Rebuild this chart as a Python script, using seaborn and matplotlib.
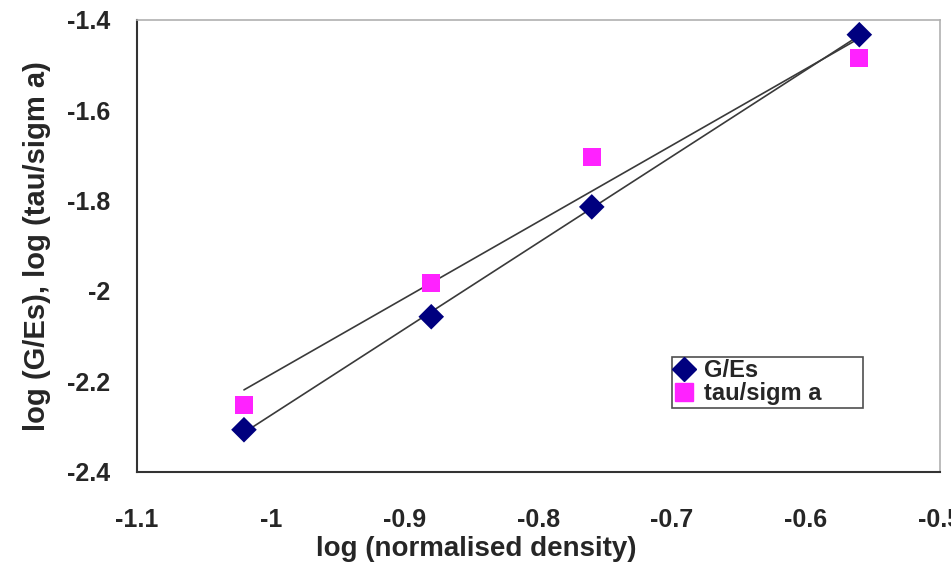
import numpy as np
import pandas as pd
import seaborn as sns
import matplotlib.pyplot as plt
from matplotlib.lines import Line2D

# values
log_density = [-1.02, -0.88, -0.76, -0.56]
g_es = [-2.307, -2.057, -1.814, -1.433]
tau_sigma = [-2.252, -1.982, -1.703, -1.484]
series_names = ['G/Es', 'tau/sigm a']
x_ticks = [-1.1, -1, -0.9, -0.8, -0.7, -0.6, -0.5]
y_ticks = [-2.4, -2.2, -2, -1.8, -1.6, -1.4]

df = pd.DataFrame({
    'x': log_density * 2,
    'y': g_es + tau_sigma,
    'series': [series_names[0]] * 4 + [series_names[1]] * 4,
})

sns.set_style('white')
plt.rcParams['font.family'] = ['Liberation Sans', 'DejaVu Sans']
plt.rcParams['font.weight'] = 'bold'
plt.rcParams['axes.unicode_minus'] = False

fig = plt.figure(figsize=(9.51, 5.65), dpi=100)
ax = fig.add_axes([0.144, 0.165, 0.844, 0.8])

colors = {series_names[0]: '#00007f', series_names[1]: '#ff22ff'}
marks = {series_names[0]: 'D', series_names[1]: 's'}

# trendlines (linear fit, like the spreadsheet)
for name in series_names:
    sub = df[df['series'] == name]
    sns.regplot(data=sub, x='x', y='y', ax=ax, scatter=False, ci=None,
                truncate=True, line_kws={'color': '#3a3a3a', 'lw': 1.2})

sns.scatterplot(data=df, x='x', y='y', hue='series', style='series',
                palette=colors, markers=marks, ax=ax, legend=False,
                s=170, linewidth=0, zorder=3)

ax.set_xlim(-1.1, -0.5)
ax.set_ylim(-2.4, -1.4)
ax.set_xticks(x_ticks)
ax.set_yticks(y_ticks)
ax.set_xticklabels([f'{v:g}' for v in x_ticks])
ax.set_yticklabels([f'{v:g}' for v in y_ticks])
ax.tick_params(axis='both', direction='out', length=7, width=1.2,
               labelsize=18, pad=12, color='#333333')
ax.tick_params(axis='x', pad=19)

for side in ['left', 'bottom']:
    ax.spines[side].set_color('#333333')
    ax.spines[side].set_linewidth(1.5)
for side in ['top', 'right']:
    ax.spines[side].set_color('#b0b0b0')
    ax.spines[side].set_linewidth(1.2)

ax.set_xlabel('log (normalised density)', fontsize=20, fontweight='bold')
ax.xaxis.set_label_coords(0.423, -0.143, transform=ax.transAxes)
ax.xaxis.label.set_va('top')
ax.set_ylabel('log (G/Es), log (tau/sigm a)', fontsize=21, fontweight='bold', labelpad=12)

handles = [Line2D([], [], marker=marks[n], color=colors[n], linestyle='none',
                  markersize=12 if n == series_names[0] else 13) for n in series_names]
leg = ax.legend(handles, series_names, loc='lower left', mode='expand',
                bbox_to_anchor=(0.667, 0.142, 0.237, 0.1),
                frameon=True, fancybox=False, fontsize=17, handlelength=0.8,
                handletextpad=0.45, borderpad=0.1, labelspacing=0.0, borderaxespad=0)
leg.get_frame().set_edgecolor('#222222')
leg.get_frame().set_linewidth(1.2)
for t in leg.get_texts():
    t.set_fontweight('bold')

fig.savefig('out.png', dpi=100)
